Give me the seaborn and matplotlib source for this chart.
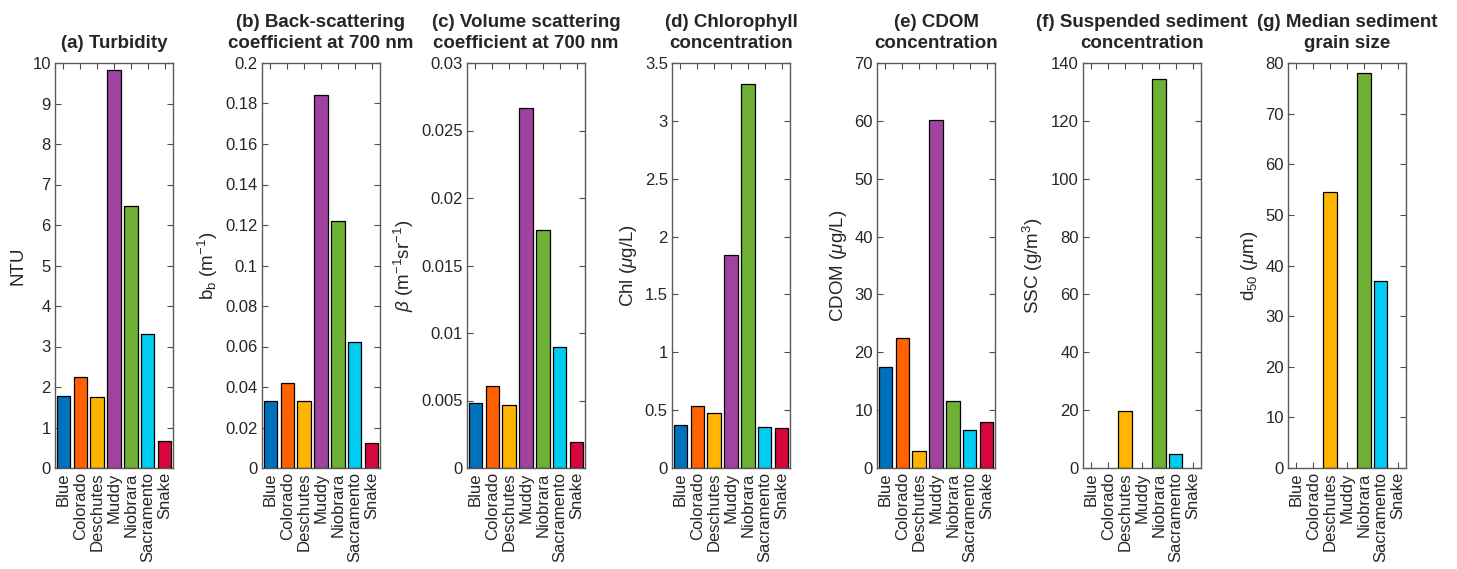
import numpy as np
import pandas as pd
import matplotlib
matplotlib.use("Agg")
import matplotlib.pyplot as plt
import seaborn as sns
from matplotlib.ticker import MultipleLocator, FuncFormatter

rivers = ["Blue", "Colorado", "Deschutes", "Muddy", "Niobrara", "Sacramento", "Snake"]
colors = ["#0072BD", "#FF6103", "#FFB500", "#A2429F", "#6DB033", "#00CCF2", "#D6083B"]

turbidity = [1.77, 2.25, 1.75, 9.82, 6.48, 3.30, 0.67]
backscatter = [0.033, 0.042, 0.033, 0.184, 0.122, 0.062, 0.0125]
vol_scatter = [0.0048, 0.0061, 0.0047, 0.0267, 0.0176, 0.0090, 0.0019]
chlorophyll = [0.375, 0.535, 0.475, 1.84, 3.32, 0.355, 0.345]
cdom = [17.5, 22.5, 3.0, 60.2, 11.5, 6.5, 8.0]
ssc = [np.nan, np.nan, 19.8, np.nan, 134.3, 5.0, np.nan]
d50 = [np.nan, np.nan, 54.6, np.nan, 78.0, 37.0, np.nan]

titles = ["(a) Turbidity",
          "(b) Back-scattering\ncoefficient at 700 nm",
          "(c) Volume scattering\ncoefficient at 700 nm",
          "(d) Chlorophyll\nconcentration",
          "(e) CDOM\nconcentration",
          "(f) Suspended sediment\nconcentration",
          "(g) Median sediment\ngrain size"]
ylabels = ["NTU", r"b$_\mathrm{b}$ (m$^{-1}$)", r"$\beta$ (m$^{-1}$sr$^{-1}$)",
           r"Chl ($\mu$g/L)", r"CDOM ($\mu$g/L)", r"SSC (g/m$^3$)", r"d$_{50}$ ($\mu$m)"]
ylims = [10, 0.2, 0.03, 3.5, 70, 140, 80]
ysteps = [1, 0.02, 0.005, 0.5, 10, 20, 10]
series = [turbidity, backscatter, vol_scatter, chlorophyll, cdom, ssc, d50]

sns.set_theme(style="white")
plt.rcParams['font.family'] = ['Liberation Sans', 'DejaVu Sans']
plt.rcParams['mathtext.fontset'] = 'custom'
plt.rcParams['mathtext.rm'] = 'Liberation Sans'
plt.rcParams['mathtext.it'] = 'Liberation Sans:italic'

W, H = 1457, 569
fig = plt.figure(figsize=(W / 100, H / 100), dpi=100)
lefts = [55, 262, 467, 672, 877, 1083, 1288]
top_px, bot_px, w_px = 63, 468, 118

fmt = FuncFormatter(lambda v, p: "{:g}".format(round(v, 6)))
for i in range(7):
    ax = fig.add_axes([lefts[i] / W, (H - bot_px) / H, w_px / W, (bot_px - top_px) / H])
    df = pd.DataFrame({"river": rivers, "value": series[i]})
    sns.barplot(data=df, x="river", y="value", hue="river", palette=colors,
                order=rivers, hue_order=rivers, dodge=False, legend=False,
                saturation=1, edgecolor="black", linewidth=0.9, width=0.8, ax=ax)
    ax.set_xlim(-0.5, 6.5)
    ax.set_ylim(0, ylims[i])
    ax.yaxis.set_major_locator(MultipleLocator(ysteps[i]))
    ax.yaxis.set_major_formatter(fmt)
    ax.set_xticks(range(7))
    ax.set_xticklabels(rivers, rotation=90, fontsize=12, color="#262626")
    ax.tick_params(axis="y", labelsize=12, labelcolor="#262626")
    ax.tick_params(direction="in", length=4, width=0.8, color="#4d4d4d",
                   top=True, right=True, bottom=True, left=True, pad=3)
    for s in ax.spines.values():
        s.set_color("#5a5a5a")
        s.set_linewidth(1.0)
    ax.set_xlabel("")
    ax.set_ylabel(ylabels[i], fontsize=13.5, color="#262626")
    ax.set_title(titles[i], fontsize=13.5, fontweight="bold", pad=11, linespacing=1.3)

fig.savefig("out.png", dpi=100)
